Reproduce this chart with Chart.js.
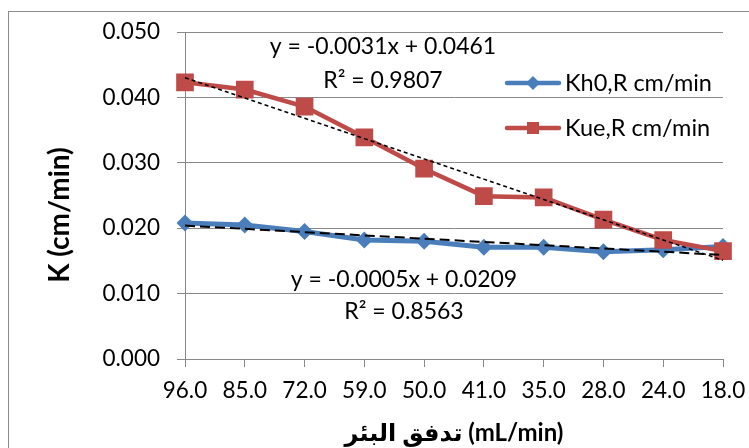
<!DOCTYPE html>
<html>
<head>
<meta charset="utf-8">
<script src="https://cdn.jsdelivr.net/npm/chart.js@4.4.0/dist/chart.umd.min.js"></script>
<style>
  html, body { margin: 0; padding: 0; background: #fff; }
  #wrap { width: 749px; height: 448px; }
</style>
</head>
<body>
<div id="wrap"><canvas id="chart"></canvas></div>
<script>
// data
const flowLabels = ['96.0', '85.0', '72.0', '59.0', '50.0', '41.0', '35.0', '28.0', '24.0', '18.0'];
const kh0Values = [0.0208, 0.0205, 0.0195, 0.0182, 0.0180, 0.0171, 0.0171, 0.0164, 0.0167, 0.0172];
const kueValues = [0.0423, 0.0412, 0.0386, 0.0339, 0.0291, 0.0249, 0.0247, 0.0213, 0.0182, 0.0165];
// trendline equations shown on the chart: [slope, intercept], x = 1..10
const kh0Fit = [-0.0005, 0.0209];
const kueFit = [-0.0031, 0.0461];
const kh0R2 = '0.8563';
const kueR2 = '0.9807';
const yTitle = 'K (cm/min)';
const xTitle = 'تدفق البئر (mL/min)';

const FONT = "Lato, 'DejaVu Sans', sans-serif";
const BLUE = '#4a7ebb';
const RED = '#be4b48';
const GRID = '#888888';

const trend = (fit) => flowLabels.map((_, i) => fit[0] * (i + 1) + fit[1]);

// border, y title, legend and trendline labels
const decor = {
  id: 'decor',
  beforeDraw(chart) {
    const ctx = chart.ctx;
    ctx.save();
    ctx.strokeStyle = '#8c8c8c';
    ctx.lineWidth = 1;
    ctx.strokeRect(8.5, 11.5, 800, 500);
    ctx.restore();
  },
  afterDraw(chart) {
    const ctx = chart.ctx;
    ctx.save();

    // y axis title sits a bit below the middle, as in the original
    ctx.save();
    ctx.translate(60, 215);
    ctx.rotate(-Math.PI / 2);
    ctx.fillStyle = '#000';
    ctx.font = 'bold 28px ' + FONT;
    ctx.textAlign = 'center';
    ctx.textBaseline = 'middle';
    ctx.fillText(yTitle, 0, 0);
    ctx.restore();

    const items = [chart.data.datasets[3], chart.data.datasets[2]];
    items.forEach((ds, i) => {
      const y = 83 + i * 45;
      ctx.strokeStyle = ds.borderColor;
      ctx.lineWidth = 4.5;
      ctx.lineCap = 'round';
      ctx.beginPath();
      ctx.moveTo(507, y);
      ctx.lineTo(559, y);
      ctx.stroke();
      ctx.fillStyle = ds.borderColor;
      ctx.beginPath();
      if (ds.pointStyle === 'rectRot') {
        ctx.moveTo(533, y - 7); ctx.lineTo(540, y); ctx.lineTo(533, y + 7); ctx.lineTo(526, y);
      } else {
        ctx.rect(527, y - 6, 12, 12);
      }
      ctx.closePath();
      ctx.fill();
      ctx.fillStyle = '#000';
      ctx.font = '23.5px ' + FONT;
      ctx.textAlign = 'left';
      ctx.textBaseline = 'middle';
      ctx.fillText(ds.label, 565, y);
    });

    ctx.fillStyle = '#000';
    ctx.font = '23px ' + FONT;
    ctx.textAlign = 'center';
    ctx.textBaseline = 'middle';
    const eq = (fit) => 'y = ' + fit[0].toFixed(4) + 'x + ' + fit[1].toFixed(4);
    ctx.fillText(eq(kueFit), 383, 47);
    ctx.fillText('R² = ' + kueR2, 383, 81);
    ctx.fillText(eq(kh0Fit), 404, 280);
    ctx.fillText('R² = ' + kh0R2, 404, 312);
    ctx.restore();
  }
};

new Chart(document.getElementById('chart'), {
  type: 'line',
  data: {
    labels: flowLabels,
    datasets: [
      {
        label: 'Kue trend',
        data: trend(kueFit),
        borderColor: '#000',
        borderWidth: 1.5,
        borderDash: [4, 3],
        pointRadius: 0,
        fill: false
      },
      {
        label: 'Kh0 trend',
        data: trend(kh0Fit),
        borderColor: '#000',
        borderWidth: 2,
        borderDash: [10, 5],
        pointRadius: 0,
        fill: false
      },
      {
        label: 'Kue,R cm/min',
        data: kueValues,
        borderColor: RED,
        backgroundColor: RED,
        borderWidth: 4.5,
        pointStyle: 'rect',
        pointRadius: 12.5,
        pointBorderWidth: 0,
        fill: false
      },
      {
        label: 'Kh0,R cm/min',
        data: kh0Values,
        borderColor: BLUE,
        backgroundColor: BLUE,
        borderWidth: 5,
        pointStyle: 'rectRot',
        pointRadius: 8.5,
        pointBorderWidth: 0,
        fill: false
      }
    ]
  },
  options: {
    responsive: true,
    maintainAspectRatio: false,
    animation: false,
    layout: { padding: { top: 32, right: 26, left: 0, bottom: 0 } },
    plugins: {
      legend: { display: false },
      tooltip: { enabled: false }
    },
    scales: {
      x: {
        offset: false,
        afterFit: (s) => { s.height = 89; s.paddingLeft = 0; s.paddingRight = 0; },
        grid: { display: true, drawOnChartArea: false, drawTicks: true, tickLength: 8, color: GRID },
        border: { display: true, color: GRID },
        ticks: { color: '#000', font: { family: FONT, size: 22.5 }, padding: 10, maxRotation: 0, autoSkip: false },
        title: {
          display: true,
          text: xTitle,
          color: '#000',
          font: { family: FONT, size: 24, weight: 'bold' },
          padding: { top: 0, bottom: 0 }
        }
      },
      y: {
        min: 0,
        max: 0.05,
        afterFit: (s) => { s.width = 185; },
        grid: { color: GRID, tickLength: 8, drawTicks: true },
        border: { display: true, color: GRID },
        ticks: {
          stepSize: 0.01,
          color: '#000',
          font: { family: FONT, size: 22.5 },
          padding: 17,
          callback: (v) => v.toFixed(3)
        },
        title: { display: false }
      }
    }
  },
  plugins: [decor]
});
</script>
</body>
</html>
